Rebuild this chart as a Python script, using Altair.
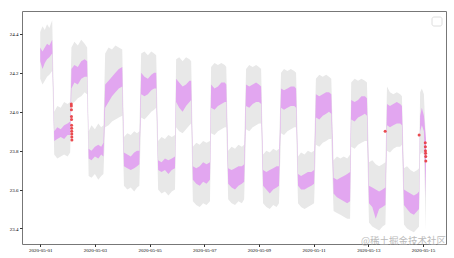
import altair as alt
import pandas as pd

# hour offsets from 2020-05-01 00:00
hours = [
    0, 2, 4, 6, 8, 10.5,
    12.3, 15, 18, 21, 24, 26.3,
    27.4, 30, 33, 36, 39, 41.2,
    42.5, 45, 48, 51, 53.5, 55.5,
    57, 60, 63, 66, 69, 72,
    73.5, 76.5, 79.5, 82.5, 85, 87,
    88.6, 91.5, 94.5, 97.5, 100, 101.8,
    103.5, 106.5, 109.5, 112.5, 115.5, 118.3,
    119.3, 122, 125, 128, 131, 132.5,
    134, 137, 140, 143, 146, 149,
    150, 153, 156, 159, 162, 163.3,
    165, 168, 171, 174, 177, 179,
    180.7, 183.5, 186.5, 189.5, 192, 193.9,
    195.6, 198.5, 201.5, 204.5, 207.5, 209.6,
    211.4, 214, 217, 220, 223, 224.6,
    226.3, 229, 232, 235, 238, 240.4,
    242, 245, 248, 251, 253.5, 255.5,
    257.5, 260.5, 263.5, 266.5, 269.5, 272,
    273, 276, 279, 282, 285, 286.8,
    288.6, 291.5, 294.5, 297.5, 300.5, 303,
    304.4, 307, 310, 313, 316, 317.5,
    319.3, 322, 325, 328, 331, 332.5,
    333.5, 335, 336.8, 338.6,
]

band_lower = [
    24.17, 24.14, 24.16, 24.18, 24.19, 24.21,
    23.78, 23.76, 23.77, 23.78, 23.77, 23.79,
    24.04, 24.05, 24.07, 24.08, 24.10, 24.09,
    23.67, 23.66, 23.68, 23.65, 23.67, 23.68,
    23.92, 23.93, 23.95, 23.96, 23.97, 23.98,
    23.62, 23.60, 23.61, 23.59, 23.61, 23.62,
    23.97, 23.96, 23.98, 24.00, 24.01, 24.02,
    23.60, 23.58, 23.59, 23.57, 23.59, 23.60,
    23.92, 23.90, 23.89, 23.91, 23.93, 23.94,
    23.54, 23.52, 23.51, 23.53, 23.52, 23.54,
    23.89, 23.88, 23.90, 23.91, 23.92, 23.92,
    23.55, 23.53, 23.52, 23.54, 23.53, 23.55,
    23.91, 23.90, 23.92, 23.93, 23.94, 23.94,
    23.53, 23.51, 23.50, 23.52, 23.51, 23.53,
    23.89, 23.88, 23.90, 23.91, 23.92, 23.92,
    23.53, 23.51, 23.50, 23.51, 23.52, 23.53,
    23.83, 23.82, 23.84, 23.85, 23.86, 23.86,
    23.49, 23.48, 23.47, 23.46, 23.45, 23.45,
    23.82, 23.81, 23.83, 23.84, 23.85, 23.85,
    23.43, 23.41, 23.40, 23.39, 23.41, 23.42,
    23.80, 23.79, 23.81, 23.82, 23.82, 23.83,
    23.42, 23.40, 23.39, 23.38, 23.40, 23.41,
    23.78, 23.79, 23.78, 23.39,
]

band_upper = [
    24.41, 24.44, 24.42, 24.45, 24.43, 24.47,
    24.00, 24.03, 24.02, 24.05, 24.04, 24.05,
    24.33, 24.36, 24.34, 24.37, 24.35, 24.33,
    23.90, 23.93, 23.91, 23.94, 23.92, 23.93,
    24.30, 24.33, 24.32, 24.34, 24.33, 24.32,
    23.87, 23.89, 23.88, 23.90, 23.89, 23.90,
    24.30, 24.31, 24.29, 24.31, 24.30, 24.29,
    23.85, 23.87, 23.86, 23.88, 23.87, 23.88,
    24.27, 24.28, 24.26, 24.28, 24.27, 24.26,
    23.82, 23.84, 23.83, 23.85, 23.84, 23.85,
    24.23, 24.25, 24.24, 24.25, 24.24, 24.23,
    23.80, 23.82, 23.81, 23.83, 23.82, 23.83,
    24.22, 24.24, 24.23, 24.24, 24.23, 24.22,
    23.78, 23.80, 23.79, 23.81, 23.80, 23.81,
    24.20, 24.22, 24.21, 24.22, 24.21, 24.20,
    23.77, 23.79, 23.78, 23.80, 23.79, 23.80,
    24.17, 24.19, 24.18, 24.19, 24.18, 24.17,
    23.75, 23.77, 23.76, 23.77, 23.76, 23.78,
    24.15, 24.17, 24.16, 24.17, 24.16, 24.15,
    23.74, 23.75, 23.73, 23.72, 23.73, 23.74,
    24.13, 24.10, 24.09, 24.10, 24.09, 24.08,
    23.71, 23.72, 23.70, 23.69, 23.70, 23.71,
    24.10, 24.12, 24.09, 23.84,
]

series_low = [
    24.26, 24.22, 24.25, 24.27, 24.28, 24.30,
    23.85, 23.86, 23.87, 23.86, 23.88, 23.88,
    24.12, 24.15, 24.14, 24.17, 24.18, 24.18,
    23.76, 23.75, 23.77, 23.76, 23.78, 23.77,
    24.02, 24.05, 24.08, 24.10, 24.12, 24.13,
    23.72, 23.71, 23.70, 23.71, 23.72, 23.73,
    24.09, 24.08, 24.09, 24.11, 24.12, 24.12,
    23.70, 23.69, 23.70, 23.68, 23.70, 23.71,
    24.05, 24.02, 24.00, 24.03, 24.05, 24.06,
    23.65, 23.63, 23.62, 23.64, 23.63, 23.65,
    24.02, 24.01, 24.03, 24.04, 24.05, 24.05,
    23.63, 23.61, 23.60, 23.62, 23.63, 23.64,
    24.03, 24.02, 24.04, 24.05, 24.05, 24.04,
    23.62, 23.60, 23.58, 23.60, 23.61, 23.62,
    24.02, 24.01, 24.02, 24.03, 24.03, 24.02,
    23.62, 23.60, 23.60, 23.61, 23.62, 23.63,
    23.97, 23.96, 23.98, 23.99, 24.00, 23.99,
    23.58, 23.56, 23.55, 23.54, 23.53, 23.54,
    23.96, 23.95, 23.97, 23.98, 23.99, 23.98,
    23.53, 23.51, 23.45, 23.50, 23.51, 23.52,
    23.93, 23.92, 23.93, 23.94, 23.94, 23.93,
    23.52, 23.50, 23.48, 23.47, 23.49, 23.50,
    23.90, 23.93, 23.90, 23.56,
]

series_high = [
    24.33, 24.31, 24.33, 24.35, 24.34, 24.37,
    23.90, 23.92, 23.91, 23.93, 23.94, 23.95,
    24.22, 24.24, 24.23, 24.26, 24.27, 24.26,
    23.81, 23.80, 23.82, 23.83, 23.82, 23.84,
    24.14, 24.16, 24.18, 24.20, 24.22, 24.23,
    23.79, 23.78, 23.77, 23.79, 23.80, 23.80,
    24.20, 24.18, 24.17, 24.19, 24.20, 24.20,
    23.75, 23.74, 23.76, 23.75, 23.76, 23.77,
    24.17, 24.15, 24.13, 24.14, 24.16, 24.16,
    23.72, 23.71, 23.72, 23.74, 23.73, 23.74,
    24.14, 24.12, 24.13, 24.15, 24.15, 24.14,
    23.71, 23.70, 23.71, 23.72, 23.72, 23.73,
    24.14, 24.13, 24.14, 24.15, 24.14, 24.13,
    23.70, 23.69, 23.70, 23.71, 23.72, 23.72,
    24.12, 24.11, 24.12, 24.13, 24.13, 24.12,
    23.68, 23.67, 23.68, 23.69, 23.69, 23.70,
    24.09, 24.08, 24.09, 24.10, 24.10, 24.09,
    23.66, 23.65, 23.66, 23.67, 23.68, 23.69,
    24.06, 24.05, 24.06, 24.08, 24.08, 24.07,
    23.62, 23.61, 23.60, 23.59, 23.60, 23.61,
    24.04, 24.03, 24.04, 24.05, 24.04, 24.03,
    23.60, 23.59, 23.58, 23.57, 23.58, 23.59,
    23.98, 24.02, 23.98, 23.86,
]

anomaly_hours = [27.3, 27.35, 27.4, 27.45, 27.5, 27.55, 27.6, 27.65, 27.7, 27.75, 27.8,
                 302.8, 332.6,
                 338.0, 338.1, 338.2, 338.3, 338.4, 338.5]
anomaly_values = [24.04, 24.03, 24.01, 23.975, 23.96, 23.93, 23.915, 23.90, 23.885, 23.87, 23.855,
                  23.90, 23.88,
                  23.84, 23.82, 23.80, 23.787, 23.77, 23.747]

y_ticks = [23.4, 23.6, 23.8, 24.0, 24.2, 24.4]
x_tick_days = [1, 3, 5, 7, 9, 11, 13, 15]
watermark = "@稀土掘金技术社区"

base = pd.Timestamp("2020-05-01")
df = pd.DataFrame({
    "t": base + pd.to_timedelta(hours, unit="h"),
    "g_lo": band_lower, "g_hi": band_upper,
    "v_lo": series_low, "v_hi": series_high,
})
adf = pd.DataFrame({
    "t": base + pd.to_timedelta(anomaly_hours, unit="h"),
    "v": anomaly_values,
})

FONT = "Liberation Serif"

x_enc = alt.X(
    "t:T",
    scale=alt.Scale(domain=[alt.DateTime(year=2020, month=4, date=30, hours=8),
                            alt.DateTime(year=2020, month=5, date=15, hours=20, minutes=12)]),
    axis=alt.Axis(values=[alt.DateTime(year=2020, month=5, date=d) for d in x_tick_days],
                  format="%Y-%m-%d", title=None, grid=False, domain=False,
                  tickSize=2.5, labelPadding=1, labelFontSize=5, labelFont=FONT,
                  labelColor="black", tickColor="#333"),
)
y_scale = alt.Scale(domain=[23.32, 24.518], nice=False, zero=False)
y_axis = alt.Axis(values=y_ticks, format=".1f", title=None, grid=False, domain=False,
                  tickSize=2.5, labelPadding=1.5, labelFontSize=5, labelFont=FONT,
                  labelColor="black", tickColor="#333")

band = alt.Chart(df).mark_area(color="#e8e8e8").encode(
    x=x_enc, y=alt.Y("g_lo:Q", scale=y_scale, axis=y_axis), y2="g_hi:Q")

series = alt.Chart(df).mark_area(color="#e2a6f0").encode(
    x=x_enc, y=alt.Y("v_lo:Q", scale=y_scale), y2="v_hi:Q")

points = alt.Chart(adf).mark_circle(color="#e8383d", size=9, opacity=0.9).encode(
    x=x_enc, y=alt.Y("v:Q", scale=y_scale))

legend_box = alt.Chart(pd.DataFrame({"a": [0]})).mark_rect(
    fill="white", stroke="#d6d6d6", strokeWidth=0.8, cornerRadius=2).encode(
    x=alt.value(410), x2=alt.value(420), y=alt.value(6), y2=alt.value(15))

wm = alt.Chart(pd.DataFrame({"w": [watermark]})).mark_text(
    align="right", baseline="alphabetic", fontSize=9.5, font="Noto Sans CJK SC",
    color="#b0b0b0", opacity=0.85).encode(
    text="w:N", x=alt.value(424), y=alt.value(233))

chart = alt.layer(band, series, points, legend_box, wm).properties(
    width=424, height=233,
    autosize=alt.AutoSizeParams(type="none"),
    padding={"left": 22, "top": 11, "right": 8, "bottom": 14},
    background="white",
).configure_view(stroke="#777", strokeWidth=1)

chart.save("out.html", embed_options={"renderer": "svg", "actions": False})
